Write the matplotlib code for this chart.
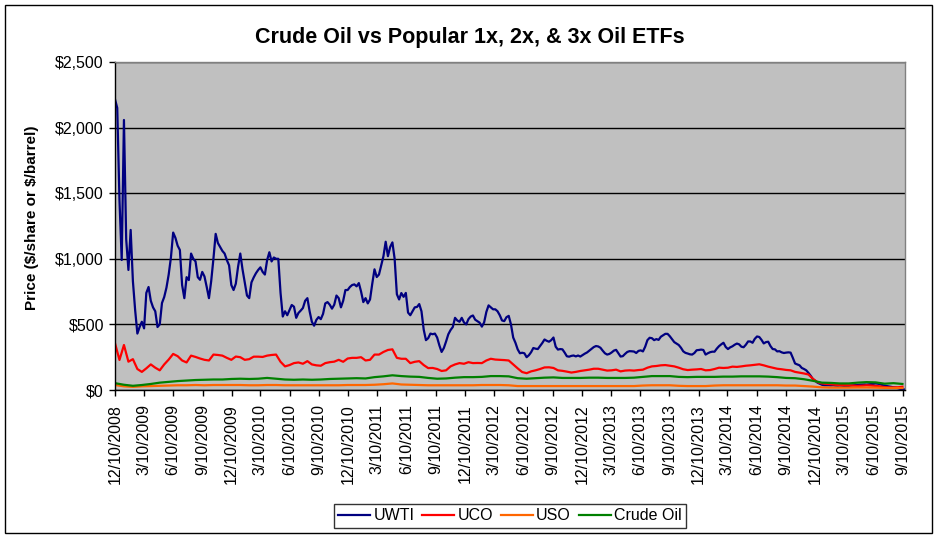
import matplotlib
matplotlib.use("Agg")
import matplotlib.pyplot as plt
from matplotlib.patches import Rectangle
from matplotlib.ticker import FuncFormatter
import pandas as pd

# values ($/share or $/barrel)
# UWTI: weekly from 12/10/2008
uwti = [
    2216, 2150, 1448, 991, 2058, 1150, 915, 1220, 830, 610,
    430, 480, 520, 470, 740, 785, 680, 630, 600, 480,
    500, 663, 709, 780, 880, 1010, 1200, 1160, 1100, 1067,
    800, 700, 860, 838, 1040, 1000, 980, 860, 840, 900,
    865, 785, 700, 830, 1000, 1190, 1120, 1090, 1060, 1040,
    990, 950, 800, 762, 810, 938, 1040, 920, 820, 720,
    700, 820, 858, 890, 915, 935, 900, 880, 990, 1050,
    980, 1010, 1000, 1000, 740, 560, 600, 570, 610, 648,
    635, 550, 587, 605, 625, 680, 700, 600, 520, 490,
    534, 556, 540, 580, 660, 670, 650, 620, 650, 720,
    700, 630, 680, 762, 762, 785, 800, 805, 790, 815,
    750, 670, 700, 660, 690, 810, 920, 861, 880, 950,
    1020, 1130, 1020, 1090, 1125, 1000, 730, 690, 739, 710,
    740, 590, 570, 600, 630, 633, 655, 600, 460, 380,
    395, 430, 425, 430, 400, 340, 290, 320, 370, 425,
    457, 480, 550, 530, 520, 550, 515, 500, 540, 560,
    568, 536, 525, 513, 483, 515, 595, 645, 630, 615,
    615, 600, 570, 530, 525, 555, 565, 500, 400, 360,
    310, 280, 284, 280, 250, 265, 288, 320, 315, 312,
    335, 358, 385, 375, 368, 380, 400, 330, 308, 312,
    310, 285, 257, 254, 260, 263, 256, 263, 255, 266,
    277, 286, 300, 314, 327, 335, 332, 322, 300, 280,
    270, 275, 286, 300, 306, 280, 255, 258, 275, 290,
    296, 295, 293, 282, 298, 302, 294, 330, 380, 398,
    395, 380, 388, 382, 406, 417, 428, 428, 410, 388,
    365, 354, 343, 322, 295, 283, 278, 272, 270, 282,
    303, 305, 308, 305, 270, 280, 288, 292, 292, 315,
    334, 348, 360, 328, 312, 325, 333, 345, 354, 348,
    330, 326, 345, 370, 370, 360, 390, 408, 404, 382,
    355, 365, 368, 335, 312, 310, 294, 296, 287, 282,
    285, 287, 285, 245, 202, 195, 188, 168, 160, 150,
    130, 108, 82, 70, 56, 48, 40, 36, 36, 36,
    35, 36, 34, 33, 34, 33, 31, 30, 31, 34,
    36, 37, 38, 40, 41, 42, 41, 43, 45, 47,
    50, 48, 45, 38, 33, 30, 27, 24, 20, 18,
    14, 8, 5, 4,
]

# UCO: every two weeks from 12/10/2008
uco = [
    356, 229, 343, 216, 235, 160, 138, 165, 195, 170,
    150, 195, 232, 275, 258, 225, 210, 262, 252, 240,
    230, 225, 270, 267, 262, 245, 230, 255, 250, 230,
    235, 254, 254, 252, 262, 267, 270, 215, 180, 190,
    205, 210, 200, 220, 195, 188, 185, 205, 212, 216,
    230, 215, 240, 245, 245, 250, 225, 230, 270, 270,
    290, 305, 310, 245, 238, 238, 205, 215, 220, 190,
    167, 168, 160, 145, 150, 180, 195, 205, 200, 212,
    205, 206, 205, 225, 238, 232, 230, 228, 225, 195,
    165, 137, 128, 142, 150, 160, 172, 173, 168, 150,
    146, 140, 133, 138, 145, 150, 155, 162, 162, 155,
    148, 150, 155, 142, 148, 150, 148, 152, 155, 170,
    180, 183, 188, 190, 185, 180, 170, 158, 152, 155,
    157, 160, 150, 152, 160, 170, 168, 170, 178, 176,
    180, 185, 188, 192, 196, 188, 178, 170, 162, 158,
    153, 150, 138, 132, 126, 118, 85, 60, 50, 46,
    44, 40, 38, 37, 36, 34, 31, 33, 36, 34,
    31, 28, 22, 20, 20, 21, 25,
]

# USO and crude oil: every four weeks from 12/10/2008
uso = [
    38, 28, 24, 28, 30, 32, 34, 36, 36, 38,
    36, 38, 38, 38, 38, 36, 36, 38, 38, 36,
    36, 36, 36, 36, 36, 36, 38, 38, 38, 40,
    44, 50, 42, 40, 38, 36, 36, 36, 36, 36,
    36, 38, 38, 38, 36, 30, 30, 30, 30, 30,
    30, 30, 30, 30, 30, 30, 30, 30, 30, 34,
    36, 36, 36, 32, 30, 30, 30, 34, 36, 36,
    36, 36, 36, 36, 36, 34, 34, 30, 26, 20,
    18, 18, 18, 19, 19, 18, 16, 15, 15,
]

crude = [
    52, 40, 32, 38, 46, 56, 62, 68, 72, 76,
    78, 80, 80, 84, 86, 84, 86, 92, 86, 80,
    78, 80, 78, 80, 84, 86, 88, 90, 88, 98,
    104, 112, 106, 102, 100, 92, 86, 88, 94, 98,
    98, 100, 106, 106, 104, 90, 86, 90, 94, 96,
    92, 92, 92, 94, 94, 92, 92, 92, 94, 100,
    106, 106, 106, 100, 98, 100, 100, 100, 102, 102,
    104, 104, 104, 102, 98, 92, 90, 82, 70, 56,
    54, 50, 50, 56, 60, 58, 48, 52, 46,
]

start = pd.Timestamp('2008-12-10')
uwti_dates = pd.date_range(start, periods=len(uwti), freq='7D')
uco_dates = pd.date_range(start, periods=len(uco), freq='14D')
uso_dates = pd.date_range(start, periods=len(uso), freq='28D')
crude_dates = pd.date_range(start, periods=len(crude), freq='28D')

tick_dates = [start + pd.DateOffset(months=3 * i) for i in range(28)]
tick_labels = [f"{d.month}/{d.day}/{d.year}" for d in tick_dates]

plt.rcParams['font.family'] = ['Liberation Sans', 'DejaVu Sans']

W, H = 935, 541
fig = plt.figure(figsize=(W / 100, H / 100), dpi=100)
ax = fig.add_axes([115 / W, 1 - 390 / H, 790 / W, 328 / H])
ax.set_facecolor('#C0C0C0')

ax.plot(uwti_dates, uwti, color='#000080', lw=1.6, label='UWTI')
ax.plot(uco_dates, uco, color='#FF0000', lw=1.6, label='UCO')
ax.plot(uso_dates, uso, color='#FF6600', lw=1.6, label='USO')
ax.plot(crude_dates, crude, color='#008000', lw=1.6, label='Crude Oil')

ax.set_xlim(start, pd.Timestamp('2015-09-17'))
ax.set_ylim(0, 2500)
ax.set_yticks(range(0, 2501, 500))
ax.yaxis.set_major_formatter(FuncFormatter(lambda v, p: f"${v:,.0f}"))
ax.set_xticks(tick_dates)
ax.set_xticklabels(tick_labels, rotation=90)

ax.yaxis.grid(True, color='black', lw=1)
ax.set_axisbelow(True)
ax.tick_params(axis='both', direction='out', length=4, width=1, labelsize=11.5, colors='black')
ax.tick_params(axis='y', pad=4)
ax.tick_params(axis='x', pad=6)

for s in ['left', 'bottom']:
    ax.spines[s].set_color('black')
    ax.spines[s].set_linewidth(1)
for s in ['top', 'right']:
    ax.spines[s].set_color('#808080')
    ax.spines[s].set_linewidth(1)

fig.text(470 / W, 1 - 37 / H, 'Crude Oil vs Popular 1x, 2x, & 3x Oil ETFs',
         fontsize=15.5, fontweight='bold', ha='center', va='center')
fig.text(32 / W, 1 - 218 / H, r'Price (\$/share or \$/barrel)', rotation=90,
         fontsize=11, fontweight='bold', ha='center', va='center')

leg = fig.legend(loc='center', bbox_to_anchor=(510 / W, 1 - 516 / H), ncol=4,
                 frameon=True, fancybox=False, edgecolor='black', fontsize=11.5,
                 handlelength=2.0, columnspacing=0.5, handletextpad=0.2,
                 borderaxespad=0, borderpad=0.3)
leg.get_frame().set_linewidth(1)

fig.patches.append(Rectangle((5 / W, 1 - 533 / H), 927 / W, 528 / H,
                             transform=fig.transFigure, fill=False,
                             edgecolor='black', lw=1))

fig.savefig('out.png', dpi=100)
